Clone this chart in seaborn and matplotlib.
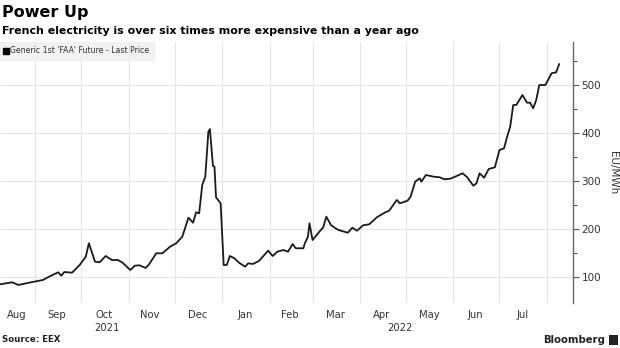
import matplotlib
matplotlib.use("Agg")
import matplotlib.pyplot as plt
import matplotlib.dates as mdates
from matplotlib.lines import Line2D
from matplotlib.patches import Rectangle
import matplotlib.transforms as mtransforms
import seaborn as sns
import pandas as pd
import numpy as np

title = "Power Up"
subtitle = "French electricity is over six times more expensive than a year ago"
series_name = "Generic 1st 'FAA' Future - Last Price"
y_label = "EU/MWh"
source = "Source: EEX"

dates = [
    "2021-08-09", "2021-08-17", "2021-08-21", "2021-08-28", "2021-09-06", "2021-09-10",
    "2021-09-16", "2021-09-18", "2021-09-20", "2021-09-25", "2021-09-30", "2021-10-04",
    "2021-10-06", "2021-10-10", "2021-10-13", "2021-10-17", "2021-10-21", "2021-10-25",
    "2021-10-28", "2021-11-02", "2021-11-05", "2021-11-08", "2021-11-12", "2021-11-14",
    "2021-11-19", "2021-11-23", "2021-11-28", "2021-12-02", "2021-12-06", "2021-12-10",
    "2021-12-13", "2021-12-15", "2021-12-17", "2021-12-19", "2021-12-21", "2021-12-23",
    "2021-12-24", "2021-12-26", "2021-12-27", "2021-12-28", "2021-12-31", "2022-01-02",
    "2022-01-04", "2022-01-06", "2022-01-09", "2022-01-12", "2022-01-16", "2022-01-18",
    "2022-01-21", "2022-01-25", "2022-01-31", "2022-02-03", "2022-02-06", "2022-02-10",
    "2022-02-13", "2022-02-16", "2022-02-18", "2022-02-23", "2022-02-24", "2022-02-26",
    "2022-02-27", "2022-03-01", "2022-03-06", "2022-03-08", "2022-03-10", "2022-03-13",
    "2022-03-16", "2022-03-18", "2022-03-24", "2022-03-27", "2022-03-30", "2022-04-03",
    "2022-04-07", "2022-04-12", "2022-04-17", "2022-04-20", "2022-04-25", "2022-04-27",
    "2022-05-02", "2022-05-04", "2022-05-07", "2022-05-10", "2022-05-11", "2022-05-14",
    "2022-05-19", "2022-05-23", "2022-05-26", "2022-05-30", "2022-06-03", "2022-06-07",
    "2022-06-10", "2022-06-12", "2022-06-14", "2022-06-16", "2022-06-18", "2022-06-21",
    "2022-06-24", "2022-06-28", "2022-07-01", "2022-07-04", "2022-07-06", "2022-07-08",
    "2022-07-10", "2022-07-12", "2022-07-16", "2022-07-19", "2022-07-21", "2022-07-23",
    "2022-07-25", "2022-07-27", "2022-07-31", "2022-08-04", "2022-08-07", "2022-08-09",
]
prices = [
    85.4, 89.6, 84.0, 88.8, 94.4, 101.2,
    110.4, 103.3, 111.0, 109.6, 125.6, 142.9,
    170.8, 132.5, 131.2, 144.3, 136.0, 136.0,
    130.4, 115.2, 124.1, 125.0, 119.4, 125.6,
    150.0, 150.0, 163.7, 170.8, 184.5, 224.0,
    213.6, 235.3, 233.2, 292.1, 309.4, 403.0,
    408.6, 331.6, 330.2, 266.5, 254.0, 125.6,
    125.6, 144.3, 139.5, 130.4, 122.1, 129.1,
    127.7, 133.9, 155.4, 144.3, 153.3, 156.8,
    153.3, 169.3, 160.4, 160.4, 170.8, 184.5,
    212.4, 177.6, 197.0, 204.1, 226.1, 208.8,
    202.0, 198.4, 192.8, 203.2, 197.0, 208.2,
    210.3, 224.9, 234.4, 238.6, 260.9, 254.0,
    259.4, 267.7, 299.0, 306.0, 299.0, 312.9,
    309.4, 308.1, 304.0, 305.2, 310.8, 316.4,
    308.1, 299.0, 290.6, 295.6, 316.4, 307.3,
    325.4, 328.9, 364.9, 368.5, 392.6, 413.4,
    458.6, 458.6, 479.4, 463.4, 463.4, 451.7,
    469.0, 500.2, 500.2, 524.6, 526.6, 543.9,
]
y_ticks = [100, 200, 300, 400, 500]
month_labels = ["Aug", "Sep", "Oct", "Nov", "Dec", "Jan", "Feb", "Mar", "Apr", "May", "Jun", "Jul"]
month_label_dates = ["2021-08-20", "2021-09-15", "2021-10-16", "2021-11-15", "2021-12-16",
                     "2022-01-16", "2022-02-14", "2022-03-16", "2022-04-15", "2022-05-16",
                     "2022-06-15", "2022-07-16"]
year_labels = ["2021", "2022"]
year_label_dates = ["2021-10-18", "2022-04-27"]

df = pd.DataFrame({"date": pd.to_datetime(dates), "price": prices})

sns.set_style("white")
plt.rcParams["font.family"] = ["DejaVu Sans"]

fig = plt.figure(figsize=(6.2, 3.48), dpi=100)
ax = fig.add_axes([0.0, 1 - 303 / 348, 573 / 620, (303 - 42) / 348])

sns.lineplot(data=df, x="date", y="price", ax=ax, color="#1a1a1a", linewidth=1.3)

ax.set_xlim(pd.Timestamp("2021-08-09"), pd.Timestamp("2022-08-18"))
ax.set_ylim(46.5, 589.7)

# grid at month starts, labels mid-month
ax.xaxis.set_major_locator(mdates.MonthLocator(bymonthday=1))
ax.xaxis.set_major_formatter(plt.NullFormatter())
ax.set_xticks([mdates.date2num(pd.Timestamp(d)) for d in month_label_dates], minor=True)
ax.set_xticklabels(month_labels, minor=True)
ax.tick_params(axis="x", which="both", length=0, labelsize=7.2, labelcolor="#333333", pad=5)
ax.grid(True, which="major", axis="both", color="#e6e6e6", linewidth=0.8)

ax.yaxis.tick_right()
ax.yaxis.set_label_position("right")
ax.set_yticks(y_ticks)
ax.set_yticks([150, 250, 350, 450, 550], minor=True)
ax.tick_params(axis="y", which="major", length=4, width=0.8, color="#555555",
               labelsize=7.5, labelcolor="#333333", pad=2)
ax.tick_params(axis="y", which="minor", length=3, width=0.8, color="#555555")
ax.set_ylabel(y_label, rotation=270, labelpad=12, fontsize=7.5, color="#333333")
ax.set_xlabel("")

for s in ["top", "left", "bottom"]:
    ax.spines[s].set_visible(False)
ax.spines["right"].set_color("#666666")
ax.spines["right"].set_linewidth(1.0)

trans = mtransforms.blended_transform_factory(ax.transData, ax.transAxes)
for lbl, d in zip(year_labels, year_label_dates):
    ax.text(mdates.date2num(pd.Timestamp(d)), -0.077, lbl, transform=trans,
            ha="center", va="top", fontsize=7.2, color="#333333")

handle = Line2D([], [], linestyle="none", marker="s", markersize=4.5, color="black")
leg = ax.legend([handle], [series_name], loc="upper left", bbox_to_anchor=(0.0, 1.0),
                frameon=True, fontsize=5.6, handlelength=0.5, handletextpad=0.3,
                borderpad=0.55, borderaxespad=0.0, fancybox=False)
leg.get_frame().set_facecolor("#eeeeee")
leg.get_frame().set_edgecolor("#eeeeee")
for t in leg.get_texts():
    t.set_color("#333333")

fig.text(0.003, 1 - 13 / 348, title, fontsize=11.5, fontweight="bold", va="center", ha="left",
         color="black")
fig.text(0.003, 1 - 31 / 348, subtitle, fontsize=7.9, fontweight="bold", va="center", ha="left",
         color="black")
fig.text(0.003, 1 - 340 / 348, source, fontsize=6.2, fontweight="bold", va="center", ha="left",
         color="#222222")
fig.text(0.976, 1 - 340 / 348, "Bloomberg", fontsize=7.3, fontweight="bold", va="center",
         ha="right", color="#222222")
fig.patches.append(Rectangle((0.982, 1 - 345 / 348), 9 / 620, 10 / 348, transform=fig.transFigure,
                             facecolor="#222222", edgecolor="none"))

fig.savefig("out.png", dpi=100)
